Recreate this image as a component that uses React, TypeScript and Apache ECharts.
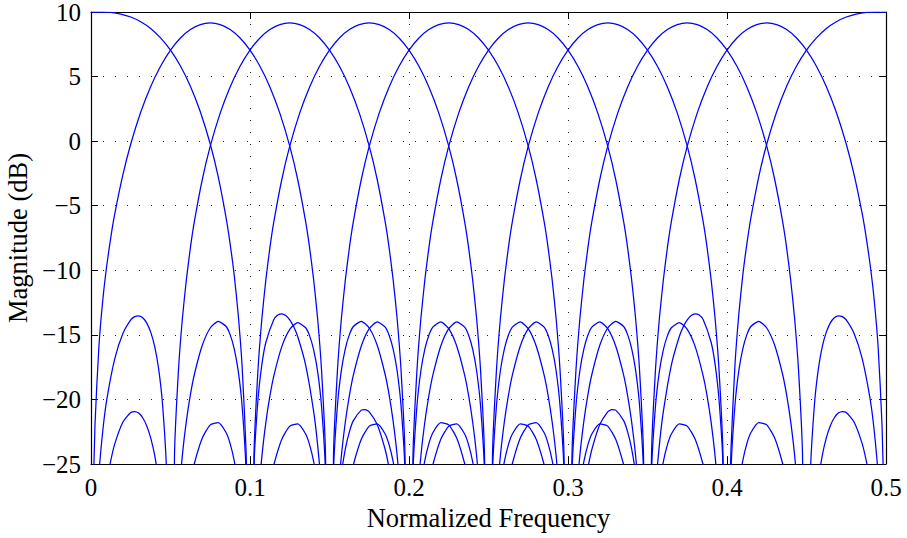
import React, { useEffect, useRef } from 'react';
import * as echarts from 'echarts';

// value used where a response has a true zero (drawn below the axis floor)
const Z = -60;

const xTickValues = [0, 0.1, 0.2, 0.3, 0.4, 0.5];
const yTickValues = [-25, -20, -15, -10, -5, 0, 5, 10];

const band0: [number, number][] = [
  [0, 10], [0.00625, 10], [0.0125, 9.97], [0.01875, 9.84], [0.025, 9.61], [0.03125, 9.25], [0.0375, 8.73], [0.04375, 8.0], [0.05, 7.05], [0.05625, 5.82], [0.0625, 4.26], [0.06875, 2.28], [0.075, -0.22], [0.08, -2.75], [0.085, -5.96], [0.0875, -7.95], [0.09, -10.3], [0.0925, -13.31], [0.095, -17.35], [0.0975, -23.9], [0.099, -32.2], [0.1, Z],
  [0.1025, -25.4], [0.105, -20.05], [0.1075, -17.27], [0.11, -15.57], [0.115, -13.82], [0.1175, -13.47], [0.12, -13.37], [0.1225, -13.5], [0.125, -13.84], [0.1275, -14.38], [0.13, -15.13], [0.135, -17.34], [0.14, -20.9], [0.1425, -23.49], [0.145, -27.17], [0.15, Z],
  [0.155, -28.75], [0.1575, -25.73], [0.16, -23.81], [0.1625, -22.51], [0.165, -21.64], [0.17, -20.83], [0.1725, -20.79], [0.175, -20.96], [0.18, -21.95], [0.185, -23.88], [0.1875, -25.32], [0.19, -27.17], [0.2, Z],
];

const band1: [number, number][] = [
  [0, Z], [0.001, -30], [0.0025, -22.0], [0.005, -15.85], [0.0075, -12.2], [0.01, -9.55], [0.0125, -7.41], [0.015, -5.6], [0.02, -2.63], [0.025, -0.22], [0.03125, 2.24], [0.0375, 4.22], [0.04375, 5.8], [0.05, 7.05], [0.05625, 7.99], [0.0625, 8.64], [0.06875, 9.02], [0.075, 9.15], [0.08125, 9.02], [0.0875, 8.64], [0.09375, 7.99], [0.1, 7.05], [0.10625, 5.8], [0.1125, 4.2], [0.11875, 2.17], [0.125, -0.39], [0.13, -2.97], [0.135, -6.24], [0.1375, -8.26], [0.14, -10.7], [0.1425, -13.7], [0.145, -17.75], [0.1475, -24.4], [0.15, Z],
  [0.1525, -25.75], [0.155, -20.45], [0.1575, -17.71], [0.16, -16.04], [0.1625, -14.98], [0.165, -14.35], [0.17, -13.95], [0.175, -14.47], [0.18, -15.81], [0.185, -18.07], [0.1875, -19.65], [0.19, -21.66], [0.1925, -24.29], [0.195, -28.02], [0.2, Z],
  [0.205, -29.6], [0.2075, -26.6], [0.21, -24.7], [0.2125, -23.42], [0.215, -22.58], [0.22, -21.8], [0.225, -21.97], [0.23, -22.99], [0.235, -24.96], [0.2375, -26.41], [0.24, -28.29], [0.2425, -30.8], [0.25, Z],
];

const band2: [number, number][] = [
  [0, Z], [0.0025, -31.7], [0.005, -25.77], [0.0075, -22.33], [0.01, -19.96], [0.015, -16.82], [0.02, -14.91], [0.025, -13.84], [0.0275, -13.59], [0.03, -13.53], [0.0325, -13.68], [0.035, -14.07], [0.0375, -14.77], [0.04, -15.88], [0.0425, -17.6], [0.045, -20.39], [0.0475, -25.72], [0.05, Z],
  [0.0525, -24.4], [0.055, -17.75], [0.0575, -13.7], [0.06, -10.7], [0.0625, -8.26], [0.065, -6.24], [0.07, -2.97], [0.075, -0.39], [0.08125, 2.17], [0.0875, 4.2], [0.09375, 5.8], [0.1, 7.05], [0.10625, 7.99], [0.1125, 8.64], [0.11875, 9.02], [0.125, 9.15], [0.13125, 9.02], [0.1375, 8.64], [0.14375, 7.99], [0.15, 7.05], [0.15625, 5.8], [0.1625, 4.2], [0.16875, 2.17], [0.175, -0.39], [0.18, -2.97], [0.185, -6.24], [0.1875, -8.26], [0.19, -10.7], [0.1925, -13.7], [0.195, -17.75], [0.1975, -24.4], [0.2, Z],
  [0.2025, -25.8], [0.205, -20.5], [0.2075, -17.76], [0.21, -16.09], [0.2125, -15.03], [0.215, -14.4], [0.22, -14.0], [0.225, -14.52], [0.23, -15.86], [0.235, -18.12], [0.2375, -19.7], [0.24, -21.71], [0.2425, -24.34], [0.245, -28.07], [0.25, Z],
  [0.255, -29.7], [0.2575, -26.7], [0.26, -24.8], [0.2625, -23.52], [0.265, -22.68], [0.27, -21.9], [0.275, -22.07], [0.28, -23.09], [0.285, -25.06], [0.2875, -26.51], [0.29, -28.39], [0.2925, -30.9], [0.3, Z],
];

const band3: [number, number][] = [
  [0, Z], [0.0075, -28.7], [0.01, -26.38], [0.0125, -24.7], [0.015, -23.42], [0.02, -21.77], [0.025, -21.01], [0.0275, -20.94], [0.03, -21.06], [0.0325, -21.42], [0.035, -22.03], [0.0375, -22.96], [0.04, -24.3], [0.0425, -26.3], [0.045, -29.3], [0.05, Z],
  [0.055, -28.02], [0.0575, -24.29], [0.06, -21.66], [0.0625, -19.65], [0.065, -18.07], [0.07, -15.81], [0.075, -14.47], [0.08, -13.95], [0.085, -14.35], [0.0875, -14.98], [0.09, -16.04], [0.0925, -17.71], [0.095, -20.45], [0.0975, -25.75], [0.1, Z],
  [0.1025, -24.4], [0.105, -17.75], [0.1075, -13.7], [0.11, -10.7], [0.1125, -8.26], [0.115, -6.24], [0.12, -2.97], [0.125, -0.39], [0.13125, 2.17], [0.1375, 4.2], [0.14375, 5.8], [0.15, 7.05], [0.15625, 7.99], [0.1625, 8.64], [0.16875, 9.02], [0.175, 9.15], [0.18125, 9.02], [0.1875, 8.64], [0.19375, 7.99], [0.2, 7.05], [0.20625, 5.8], [0.2125, 4.2], [0.21875, 2.17], [0.225, -0.39], [0.23, -2.97], [0.235, -6.24], [0.2375, -8.26], [0.24, -10.7], [0.2425, -13.7], [0.245, -17.75], [0.2475, -24.4], [0.25, Z],
  [0.2525, -25.8], [0.255, -20.5], [0.2575, -17.76], [0.26, -16.09], [0.2625, -15.03], [0.265, -14.4], [0.27, -14.0], [0.275, -14.52], [0.28, -15.86], [0.285, -18.12], [0.2875, -19.7], [0.29, -21.71], [0.2925, -24.34], [0.295, -28.07], [0.3, Z],
  [0.305, -29.7], [0.3075, -26.7], [0.31, -24.8], [0.3125, -23.52], [0.315, -22.68], [0.32, -21.9], [0.325, -22.07], [0.33, -23.09], [0.335, -25.06], [0.3375, -26.51], [0.34, -28.39], [0.3425, -30.9], [0.35, Z],
];

const band4: [number, number][] = [
  [0.05, Z], [0.0575, -30.8], [0.06, -28.29], [0.0625, -26.41], [0.065, -24.96], [0.07, -22.99], [0.075, -21.97], [0.08, -21.8], [0.085, -22.58], [0.0875, -23.42], [0.09, -24.7], [0.0925, -26.6], [0.095, -29.6], [0.1, Z],
  [0.105, -28.12], [0.1075, -24.39], [0.11, -21.76], [0.1125, -19.75], [0.115, -18.17], [0.12, -15.91], [0.125, -14.57], [0.13, -14.05], [0.135, -14.45], [0.1375, -15.08], [0.14, -16.14], [0.1425, -17.81], [0.145, -20.55], [0.1475, -25.85], [0.15, Z],
  [0.1525, -24.4], [0.155, -17.75], [0.1575, -13.7], [0.16, -10.7], [0.1625, -8.26], [0.165, -6.24], [0.17, -2.97], [0.175, -0.39], [0.18125, 2.17], [0.1875, 4.2], [0.19375, 5.8], [0.2, 7.05], [0.20625, 7.99], [0.2125, 8.64], [0.21875, 9.02], [0.225, 9.15], [0.23125, 9.02], [0.2375, 8.64], [0.24375, 7.99], [0.25, 7.05], [0.25625, 5.8], [0.2625, 4.2], [0.26875, 2.17], [0.275, -0.39], [0.28, -2.97], [0.285, -6.24], [0.2875, -8.26], [0.29, -10.7], [0.2925, -13.7], [0.295, -17.75], [0.2975, -24.4], [0.3, Z],
  [0.3025, -25.8], [0.305, -20.5], [0.3075, -17.76], [0.31, -16.09], [0.3125, -15.03], [0.315, -14.4], [0.32, -14.0], [0.325, -14.52], [0.33, -15.86], [0.335, -18.12], [0.3375, -19.7], [0.34, -21.71], [0.3425, -24.34], [0.345, -28.07], [0.35, Z],
  [0.355, -29.7], [0.3575, -26.7], [0.36, -24.8], [0.3625, -23.52], [0.365, -22.68], [0.37, -21.9], [0.375, -22.07], [0.38, -23.09], [0.385, -25.06], [0.3875, -26.51], [0.39, -28.39], [0.3925, -30.9], [0.4, Z],
];

const band5: [number, number][] = [
  [0.1, Z], [0.1075, -30.9], [0.11, -28.39], [0.1125, -26.51], [0.115, -25.06], [0.12, -23.09], [0.125, -22.07], [0.13, -21.9], [0.135, -22.68], [0.1375, -23.52], [0.14, -24.8], [0.1425, -26.7], [0.145, -29.7], [0.15, Z],
  [0.155, -28.07], [0.1575, -24.34], [0.16, -21.71], [0.1625, -19.7], [0.165, -18.12], [0.17, -15.86], [0.175, -14.52], [0.18, -14.0], [0.185, -14.4], [0.1875, -15.03], [0.19, -16.09], [0.1925, -17.76], [0.195, -20.5], [0.1975, -25.8], [0.2, Z],
  [0.2025, -24.4], [0.205, -17.75], [0.2075, -13.7], [0.21, -10.7], [0.2125, -8.26], [0.215, -6.24], [0.22, -2.97], [0.225, -0.39], [0.23125, 2.17], [0.2375, 4.2], [0.24375, 5.8], [0.25, 7.05], [0.25625, 7.99], [0.2625, 8.64], [0.26875, 9.02], [0.275, 9.15], [0.28125, 9.02], [0.2875, 8.64], [0.29375, 7.99], [0.3, 7.05], [0.30625, 5.8], [0.3125, 4.2], [0.31875, 2.17], [0.325, -0.39], [0.33, -2.97], [0.335, -6.24], [0.3375, -8.26], [0.34, -10.7], [0.3425, -13.7], [0.345, -17.75], [0.3475, -24.4], [0.35, Z],
  [0.3525, -25.85], [0.355, -20.55], [0.3575, -17.81], [0.36, -16.14], [0.3625, -15.08], [0.365, -14.45], [0.37, -14.05], [0.375, -14.57], [0.38, -15.91], [0.385, -18.17], [0.3875, -19.75], [0.39, -21.76], [0.3925, -24.39], [0.395, -28.12], [0.4, Z],
  [0.405, -29.6], [0.4075, -26.6], [0.41, -24.7], [0.4125, -23.42], [0.415, -22.58], [0.42, -21.8], [0.425, -21.97], [0.43, -22.99], [0.435, -24.96], [0.4375, -26.41], [0.44, -28.29], [0.4425, -30.8], [0.45, Z],
];

const band6: [number, number][] = [
  [0.15, Z], [0.1575, -30.9], [0.16, -28.39], [0.1625, -26.51], [0.165, -25.06], [0.17, -23.09], [0.175, -22.07], [0.18, -21.9], [0.185, -22.68], [0.1875, -23.52], [0.19, -24.8], [0.1925, -26.7], [0.195, -29.7], [0.2, Z],
  [0.205, -28.07], [0.2075, -24.34], [0.21, -21.71], [0.2125, -19.7], [0.215, -18.12], [0.22, -15.86], [0.225, -14.52], [0.23, -14.0], [0.235, -14.4], [0.2375, -15.03], [0.24, -16.09], [0.2425, -17.76], [0.245, -20.5], [0.2475, -25.8], [0.25, Z],
  [0.2525, -24.4], [0.255, -17.75], [0.2575, -13.7], [0.26, -10.7], [0.2625, -8.26], [0.265, -6.24], [0.27, -2.97], [0.275, -0.39], [0.28125, 2.17], [0.2875, 4.2], [0.29375, 5.8], [0.3, 7.05], [0.30625, 7.99], [0.3125, 8.64], [0.31875, 9.02], [0.325, 9.15], [0.33125, 9.02], [0.3375, 8.64], [0.34375, 7.99], [0.35, 7.05], [0.35625, 5.8], [0.3625, 4.2], [0.36875, 2.17], [0.375, -0.39], [0.38, -2.97], [0.385, -6.24], [0.3875, -8.26], [0.39, -10.7], [0.3925, -13.7], [0.395, -17.75], [0.3975, -24.4], [0.4, Z],
  [0.4025, -25.75], [0.405, -20.45], [0.4075, -17.71], [0.41, -16.04], [0.4125, -14.98], [0.415, -14.35], [0.42, -13.95], [0.425, -14.47], [0.43, -15.81], [0.435, -18.07], [0.4375, -19.65], [0.44, -21.66], [0.4425, -24.29], [0.445, -28.02], [0.45, Z],
  [0.455, -29.3], [0.4575, -26.3], [0.46, -24.3], [0.4625, -22.96], [0.465, -22.03], [0.4675, -21.42], [0.47, -21.06], [0.4725, -20.94], [0.475, -21.01], [0.48, -21.77], [0.485, -23.42], [0.4875, -24.7], [0.49, -26.38], [0.4925, -28.7], [0.5, Z],
];

const band7: [number, number][] = [
  [0.2, Z], [0.2075, -30.9], [0.21, -28.39], [0.2125, -26.51], [0.215, -25.06], [0.22, -23.09], [0.225, -22.07], [0.23, -21.9], [0.235, -22.68], [0.2375, -23.52], [0.24, -24.8], [0.2425, -26.7], [0.245, -29.7], [0.25, Z],
  [0.255, -28.07], [0.2575, -24.34], [0.26, -21.71], [0.2625, -19.7], [0.265, -18.12], [0.27, -15.86], [0.275, -14.52], [0.28, -14.0], [0.285, -14.4], [0.2875, -15.03], [0.29, -16.09], [0.2925, -17.76], [0.295, -20.5], [0.2975, -25.8], [0.3, Z],
  [0.3025, -24.4], [0.305, -17.75], [0.3075, -13.7], [0.31, -10.7], [0.3125, -8.26], [0.315, -6.24], [0.32, -2.97], [0.325, -0.39], [0.33125, 2.17], [0.3375, 4.2], [0.34375, 5.8], [0.35, 7.05], [0.35625, 7.99], [0.3625, 8.64], [0.36875, 9.02], [0.375, 9.15], [0.38125, 9.02], [0.3875, 8.64], [0.39375, 7.99], [0.4, 7.05], [0.40625, 5.8], [0.4125, 4.2], [0.41875, 2.17], [0.425, -0.39], [0.43, -2.97], [0.435, -6.24], [0.4375, -8.26], [0.44, -10.7], [0.4425, -13.7], [0.445, -17.75], [0.4475, -24.4], [0.45, Z],
  [0.4525, -25.72], [0.455, -20.39], [0.4575, -17.6], [0.46, -15.88], [0.4625, -14.77], [0.465, -14.07], [0.4675, -13.68], [0.47, -13.53], [0.4725, -13.59], [0.475, -13.84], [0.48, -14.91], [0.485, -16.82], [0.49, -19.96], [0.4925, -22.33], [0.495, -25.77], [0.4975, -31.7], [0.5, Z],
];

const band8: [number, number][] = [
  [0.25, Z], [0.2575, -30.8], [0.26, -28.29], [0.2625, -26.41], [0.265, -24.96], [0.27, -22.99], [0.275, -21.97], [0.28, -21.8], [0.285, -22.58], [0.2875, -23.42], [0.29, -24.7], [0.2925, -26.6], [0.295, -29.6], [0.3, Z],
  [0.305, -28.02], [0.3075, -24.29], [0.31, -21.66], [0.3125, -19.65], [0.315, -18.07], [0.32, -15.81], [0.325, -14.47], [0.33, -13.95], [0.335, -14.35], [0.3375, -14.98], [0.34, -16.04], [0.3425, -17.71], [0.345, -20.45], [0.3475, -25.75], [0.35, Z],
  [0.3525, -24.4], [0.355, -17.75], [0.3575, -13.7], [0.36, -10.7], [0.3625, -8.26], [0.365, -6.24], [0.37, -2.97], [0.375, -0.39], [0.38125, 2.17], [0.3875, 4.2], [0.39375, 5.8], [0.4, 7.05], [0.40625, 7.99], [0.4125, 8.64], [0.41875, 9.02], [0.425, 9.15], [0.43125, 9.02], [0.4375, 8.64], [0.44375, 7.99], [0.45, 7.05], [0.45625, 5.8], [0.4625, 4.22], [0.46875, 2.24], [0.475, -0.22], [0.48, -2.63], [0.485, -5.6], [0.4875, -7.41], [0.49, -9.55], [0.4925, -12.2], [0.495, -15.85], [0.4975, -22.0], [0.499, -30], [0.5, Z],
];

const band9: [number, number][] = [
  [0.3, Z], [0.31, -27.17], [0.3125, -25.32], [0.315, -23.88], [0.32, -21.95], [0.325, -20.96], [0.3275, -20.79], [0.33, -20.83], [0.335, -21.64], [0.3375, -22.51], [0.34, -23.81], [0.3425, -25.73], [0.345, -28.75], [0.35, Z],
  [0.355, -27.17], [0.3575, -23.49], [0.36, -20.9], [0.365, -17.34], [0.37, -15.13], [0.3725, -14.38], [0.375, -13.84], [0.3775, -13.5], [0.38, -13.37], [0.3825, -13.47], [0.385, -13.82], [0.39, -15.57], [0.3925, -17.27], [0.395, -20.05], [0.3975, -25.4], [0.4, Z],
  [0.401, -32.2], [0.4025, -23.9], [0.405, -17.35], [0.4075, -13.31], [0.41, -10.3], [0.4125, -7.95], [0.415, -5.96], [0.42, -2.75], [0.425, -0.22], [0.43125, 2.28], [0.4375, 4.26], [0.44375, 5.82], [0.45, 7.05], [0.45625, 8.0], [0.4625, 8.73], [0.46875, 9.25], [0.475, 9.61], [0.48125, 9.84], [0.4875, 9.97], [0.49375, 10], [0.5, 10],
];

const bands = [band0, band1, band2, band3, band4, band5, band6, band7, band8, band9];

export default function App() {
  const ref = useRef<HTMLDivElement>(null);

  useEffect(() => {
    if (!ref.current) return;
    const chart = echarts.init(ref.current, undefined, { renderer: 'svg' });
    const font = '"Liberation Serif", "Times New Roman", serif';
    const xMin = xTickValues[0];
    const xMax = xTickValues[xTickValues.length - 1];
    const xStep = xTickValues[1] - xTickValues[0];
    const yMin = yTickValues[0];
    const yMax = yTickValues[yTickValues.length - 1];
    const yStep = yTickValues[1] - yTickValues[0];

    const axisLine = { show: true, onZero: false, lineStyle: { color: '#000', width: 1.2 } };
    const axisTick = { show: true, inside: true, length: 7, lineStyle: { color: '#000', width: 1 } };
    const dotted = { show: true, lineStyle: { color: '#222', width: 1, type: [1, 11] as number[] } };

    chart.setOption({
      animation: false,
      backgroundColor: '#ffffff',
      grid: { left: 91, right: 21, top: 12, bottom: 74, containLabel: false, outerBoundsMode: 'none' },
      xAxis: [
        {
          type: 'value', position: 'bottom', min: xMin, max: xMax, interval: xStep,
          axisLine, axisTick, splitLine: dotted,
          axisLabel: { color: '#000', fontFamily: font, fontSize: 25, margin: 11 },
          name: 'Normalized Frequency', nameLocation: 'middle', nameGap: 40,
          nameTextStyle: { color: '#000', fontFamily: font, fontSize: 26.5 },
        },
        {
          type: 'value', position: 'top', min: xMin, max: xMax, interval: xStep,
          axisLine, axisTick, splitLine: { show: false }, axisLabel: { show: false },
        },
      ],
      yAxis: [
        {
          type: 'value', position: 'left', min: yMin, max: yMax, interval: yStep,
          axisLine, axisTick, splitLine: dotted,
          axisLabel: {
            color: '#000', fontFamily: font, fontSize: 25, margin: 10,
            formatter: (v: number) => (v < 0 ? '\u2212' + Math.abs(v) : String(v)),
          },
          name: 'Magnitude (dB)', nameLocation: 'middle', nameGap: 50,
          nameTextStyle: { color: '#000', fontFamily: font, fontSize: 26.5 },
        },
        {
          type: 'value', position: 'right', min: yMin, max: yMax, interval: yStep,
          axisLine, axisTick, splitLine: { show: false }, axisLabel: { show: false },
        },
      ],
      series: bands.map((b, i) => ({
        name: 'Band ' + i,
        type: 'line',
        xAxisIndex: 0,
        yAxisIndex: 0,
        data: b,
        showSymbol: false,
        symbol: 'none',
        smooth: 0.2,
        clip: true,
        silent: true,
        lineStyle: { color: '#0000ff', width: 1.25 },
      })),
    });

    return () => chart.dispose();
  }, []);

  return (
    <div
      ref={ref}
      style={{ position: 'fixed', left: 0, top: 0, width: 907, height: 538, background: '#fff' }}
    />
  );
}
